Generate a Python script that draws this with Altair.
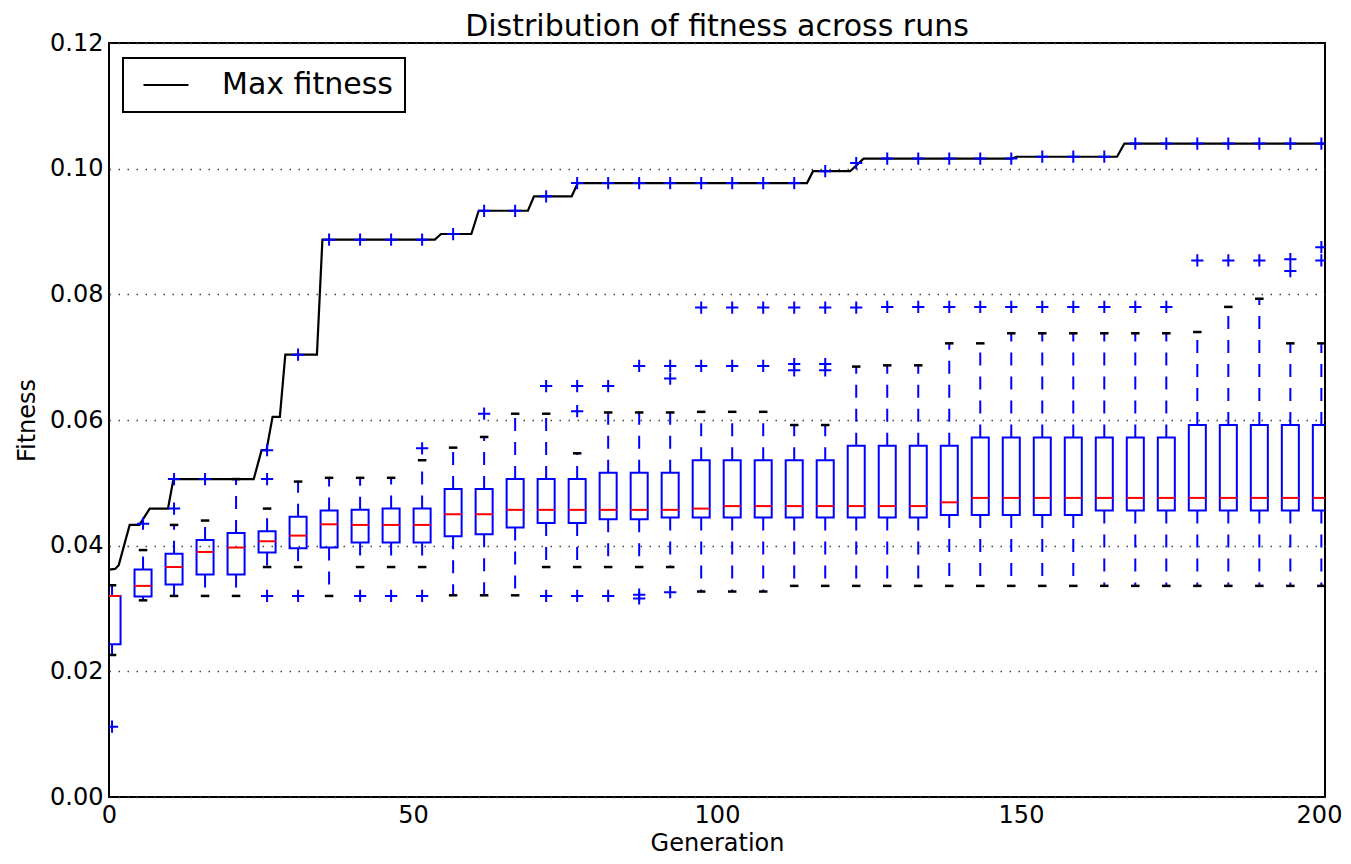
import altair as alt
import pandas as pd

# ---- box plot statistics ----
box_gen = [0.5, 5.6, 10.7, 15.8, 20.9, 26.0, 31.1, 36.2, 41.3, 46.4,
           51.5, 56.6, 61.7, 66.8, 71.9, 77.0, 82.1, 87.2, 92.3, 97.4,
           102.5, 107.6, 112.7, 117.8, 122.9, 128.0, 133.1, 138.2, 143.3, 148.4,
           153.5, 158.6, 163.7, 168.8, 173.9, 179.0, 184.1, 189.2, 194.3, 199.4]

q1 = [0.0243, 0.0319, 0.0338, 0.0354, 0.0354, 0.0389, 0.0396, 0.0397, 0.0405, 0.0405,
      0.0405, 0.0415, 0.0418, 0.0429, 0.0436, 0.0436, 0.0442, 0.0442, 0.0445, 0.0445,
      0.0445, 0.0445, 0.0445, 0.0445, 0.0445, 0.0445, 0.0445, 0.0449, 0.0449, 0.0449,
      0.0449, 0.0449, 0.0456, 0.0456, 0.0456, 0.0456, 0.0456, 0.0456, 0.0456, 0.0456]

median = [0.0320, 0.0336, 0.0366, 0.0390, 0.0397, 0.0407, 0.0416, 0.0434, 0.0433, 0.0433,
          0.0433, 0.0450, 0.0450, 0.0457, 0.0457, 0.0457, 0.0457, 0.0457, 0.0457, 0.0459,
          0.0463, 0.0463, 0.0463, 0.0463, 0.0463, 0.0463, 0.0463, 0.0469, 0.0476, 0.0476,
          0.0476, 0.0476, 0.0476, 0.0476, 0.0476, 0.0476, 0.0476, 0.0476, 0.0476, 0.0476]

q3 = [0.0320, 0.0362, 0.0387, 0.0409, 0.0420, 0.0423, 0.0446, 0.0456, 0.0457, 0.0459,
      0.0459, 0.0490, 0.0490, 0.0506, 0.0506, 0.0506, 0.0516, 0.0516, 0.0516, 0.0536,
      0.0536, 0.0536, 0.0536, 0.0536, 0.0559, 0.0559, 0.0559, 0.0559, 0.0572, 0.0572,
      0.0572, 0.0572, 0.0572, 0.0572, 0.0572, 0.0592, 0.0592, 0.0592, 0.0592, 0.0592]

whisker_lo = [0.0226, 0.0313, 0.0320, 0.0320, 0.0320, 0.0366, 0.0366, 0.0320, 0.0366, 0.0366,
              0.0366, 0.0321, 0.0321, 0.0321, 0.0366, 0.0366, 0.0366, 0.0366, 0.0366, 0.0327,
              0.0327, 0.0327, 0.0336, 0.0336, 0.0336, 0.0336, 0.0336, 0.0336, 0.0336, 0.0336,
              0.0336, 0.0336, 0.0336, 0.0336, 0.0336, 0.0336, 0.0336, 0.0336, 0.0336, 0.0336]

whisker_hi = [0.0337, 0.0393, 0.0433, 0.0440, 0.0506, 0.0459, 0.0502, 0.0508, 0.0508, 0.0508,
              0.0536, 0.0556, 0.0573, 0.0610, 0.0610, 0.0547, 0.0612, 0.0612, 0.0612, 0.0613,
              0.0613, 0.0613, 0.0592, 0.0592, 0.0685, 0.0687, 0.0687, 0.0722, 0.0722, 0.0738,
              0.0738, 0.0738, 0.0738, 0.0738, 0.0738, 0.0740, 0.0780, 0.0793, 0.0722, 0.0722]

outliers = [
    [0.0112], [0.0435], [0.0459, 0.0506], [0.0506], [],
    [0.0320, 0.0506, 0.0552], [0.0320, 0.0704], [0.0887], [0.0320, 0.0887], [0.0320, 0.0887],
    [0.0320, 0.0555, 0.0887], [0.0896], [0.0610, 0.0933], [0.0933], [0.0320, 0.0654, 0.0956],
    [0.0320, 0.0614, 0.0654, 0.0977], [0.0320, 0.0654, 0.0977], [0.0316, 0.0322, 0.0686, 0.0977],
    [0.0326, 0.0666, 0.0686, 0.0977], [0.0686, 0.0779, 0.0977],
    [0.0686, 0.0779, 0.0977], [0.0686, 0.0779, 0.0977], [0.0679, 0.0689, 0.0779, 0.0977],
    [0.0679, 0.0689, 0.0779, 0.0996], [0.0779, 0.1009],
    [0.0780, 0.1016], [0.0780, 0.1016], [0.0780, 0.1016], [0.0780, 0.1016], [0.0780, 0.1016],
    [0.0780, 0.1019], [0.0780, 0.1019], [0.0780, 0.1019], [0.0780, 0.1040], [0.0780, 0.1040],
    [0.0854, 0.1040], [0.0854, 0.1040], [0.0854, 0.1040], [0.0837, 0.0856, 0.1040],
    [0.0854, 0.0875, 0.1040],
]

# ---- max fitness line (vertices) ----
max_gen = [0, 1.0, 1.6, 3.4, 5.0, 6.7, 9.7, 10.6, 23.8, 25.1, 25.9, 26.9, 28.1, 29.0,
           34.2, 35.1, 53.6, 54.6, 59.6, 60.8, 68.9, 69.9, 76.1, 77.1, 114.8, 115.8,
           121.9, 124.1, 148.5, 149.3, 165.8, 167.0, 200]
max_fit = [0.0362, 0.0363, 0.0369, 0.0433, 0.0433, 0.0459, 0.0459, 0.0506, 0.0506, 0.0552,
           0.0552, 0.0605, 0.0605, 0.0704, 0.0704, 0.0887, 0.0887, 0.0896, 0.0896, 0.0933,
           0.0933, 0.0956, 0.0956, 0.0977, 0.0977, 0.0996, 0.0996, 0.1016, 0.1016, 0.1019,
           0.1019, 0.1040, 0.1040]

x_ticks = [0, 50, 100, 150, 200]
y_ticks = [0.0, 0.02, 0.04, 0.06, 0.08, 0.10, 0.12]

FONT = "DejaVu Sans"
BLUE = "#0000ff"

boxes = pd.DataFrame({"gen": box_gen, "q1": q1, "median": median, "q3": q3,
                      "lo": whisker_lo, "hi": whisker_hi})
outl = pd.DataFrame([{"gen": g, "value": v} for g, vals in zip(box_gen, outliers) for v in vals])
maxdf = pd.DataFrame({"gen": max_gen, "fitness": max_fit})
maxdf["series"] = "Max fitness"

x_scale = alt.Scale(domain=[0, 200], nice=False, zero=False)
y_scale = alt.Scale(domain=[0, 0.12], nice=False, zero=False)

x_axis = alt.Axis(values=x_ticks, format="d", title="Generation", grid=False, ticks=False,
                  domain=False, labelFlush=False, labelFontSize=24, labelFont=FONT,
                  labelColor="black", labelPadding=6,
                  labelOffset={"condition": {"test": "datum.value == 200", "value": -6},
                               "value": 0},
                  titleFontSize=24, titleFont=FONT,
                  titleFontWeight="normal", titleColor="black",
                  titleBaseline="alphabetic", titleY=53)
y_axis = alt.Axis(values=y_ticks, format=".2f", title="Fitness", grid=True, ticks=False,
                  domain=False, labelFlush=False, labelFontSize=24, labelFont=FONT,
                  labelColor="black", labelPadding=6, titleFontSize=24, titleFont=FONT,
                  titleFontWeight="normal", titleColor="black", titlePadding=10,
                  gridDash=[1.5, 7.5], gridColor="#444444", gridWidth=1.5)


def X(field):
    return alt.X(field, type="quantitative", scale=x_scale, axis=x_axis)


def Y(field):
    return alt.Y(field, type="quantitative", scale=y_scale, axis=y_axis)


legend = alt.Legend(title=None, orient="none", legendX=14, legendY=15,
                    strokeColor="black", fillColor="white", padding=12,
                    symbolType="M-2,0L2,0", symbolSize=506, symbolStrokeWidth=2,
                    symbolOffset=16, labelOffset=41, labelFontSize=30, labelFont=FONT,
                    labelColor="black", labelLimit=500)

line = alt.Chart(maxdf).mark_line(strokeWidth=2.2, clip=True).encode(
    x=X("gen"), y=Y("fitness"),
    color=alt.Color("series:N", scale=alt.Scale(domain=["Max fitness"], range=["black"]),
                    legend=legend),
)

base = alt.Chart(boxes).transform_calculate(
    xl="datum.gen - 1.4", xr="datum.gen + 1.4",
    cl="datum.gen - 0.7", cr="datum.gen + 0.7",
)

whisk_up = base.mark_rule(color=BLUE, strokeWidth=2, strokeDash=[13, 11], clip=True).encode(
    x=X("gen"), y=Y("q3"), y2="hi")
whisk_dn = base.mark_rule(color=BLUE, strokeWidth=2, strokeDash=[13, 11], clip=True).encode(
    x=X("gen"), y=Y("q1"), y2="lo")
cap_hi = base.mark_rule(color="black", strokeWidth=2.5, clip=True).encode(
    x=X("cl"), x2="cr", y=Y("hi"))
cap_lo = base.mark_rule(color="black", strokeWidth=2.5, clip=True).encode(
    x=X("cl"), x2="cr", y=Y("lo"))
box = base.mark_rect(fillOpacity=0, stroke=BLUE, strokeWidth=2, clip=True).encode(
    x=X("xl"), x2="xr", y=Y("q1"), y2="q3")
med = base.mark_rule(color="#ff0000", strokeWidth=2, clip=True).encode(
    x=X("xl"), x2="xr", y=Y("median"))
pts = alt.Chart(outl).mark_point(shape="M-1,0L1,0M0,-1L0,1", size=150, filled=False,
                                 stroke=BLUE, strokeWidth=2, opacity=1, clip=True).encode(
    x=X("gen"), y=Y("value"))

chart = alt.layer(line, whisk_up, whisk_dn, cap_hi, cap_lo, box, med, pts).properties(
    width=1216, height=754,
    title=alt.Title("Distribution of fitness across runs", fontSize=30, font=FONT,
                    fontWeight="normal", color="black", anchor="middle", offset=-11),
    autosize=alt.AutoSizeParams(type="none"),
    padding={"left": 101, "top": 35, "right": 18, "bottom": 59},
).configure_view(stroke="black", strokeWidth=2).configure_legend(strokeWidth=2)

chart.save("out.html", embed_options={"renderer": "svg", "actions": False})
